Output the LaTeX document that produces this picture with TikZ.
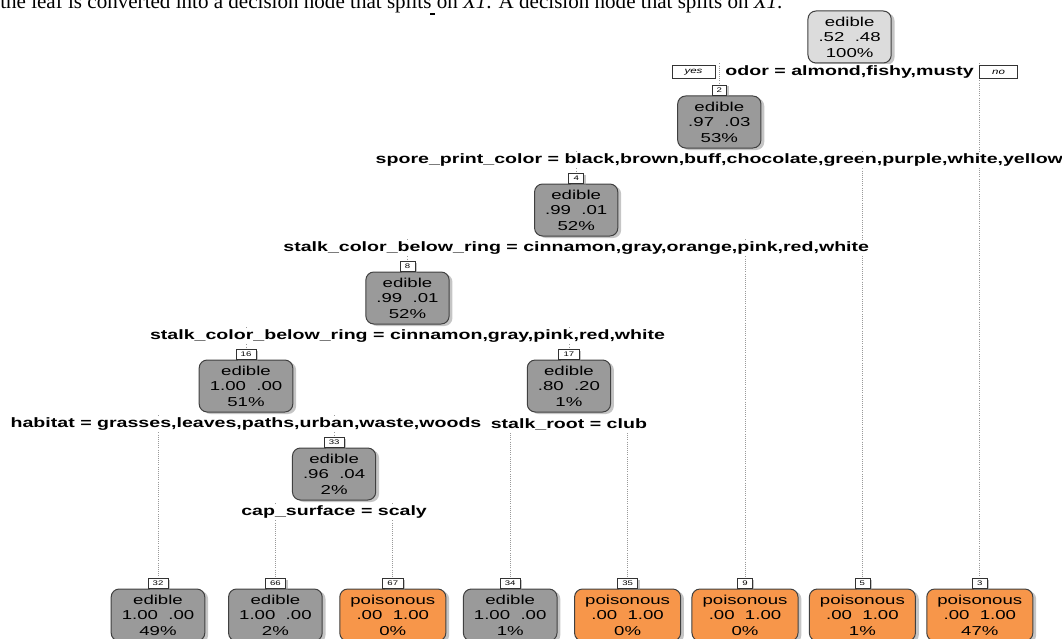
\documentclass[tikz,border=0pt]{standalone}
\usepackage{fontspec}
\setmainfont{Liberation Serif}
\newfontfamily\arialfont{Liberation Sans}
\usepackage{xcolor}
\usetikzlibrary{shadows,backgrounds}
\tikzset{>=latex}
\definecolor{rootgray}{HTML}{DCDCDC}
\definecolor{edgray}{HTML}{9A9A9A}
\definecolor{poisorange}{HTML}{F7964A}
\tikzset{
  box/.style={draw=black!75, line width=0.75pt, rounded corners=6pt, align=center,
    font=\arialfont\fontsize{9.7}{11.6}\selectfont, inner xsep=5.5pt, inner ysep=2pt,
    minimum height=39pt, xscale=1.44,
    drop shadow={shadow xshift=2.5pt, shadow yshift=-1.5pt, fill=black!45, opacity=.5}},
  rootbox/.style={box, fill=rootgray},
  edbox/.style={box, fill=edgray},
  pobox/.style={box, fill=poisorange},
  tag/.style={draw=black!80, fill=white, line width=0.5pt, inner xsep=2.5pt, inner ysep=0pt,
    minimum height=7.5pt, font=\arialfont\fontsize{5}{6}\selectfont, xscale=1.44,
    drop shadow={shadow xshift=1.5pt, shadow yshift=-1pt, fill=black!45, opacity=.5}},
  yesno/.style={draw=black!80, fill=white, line width=0.6pt, inner xsep=6.5pt, inner ysep=0pt,
    minimum height=9.5pt, font=\arialfont\itshape\fontsize{6}{7}\selectfont, xscale=1.44},
  split/.style={fill=white, inner xsep=1pt, inner ysep=1.5pt,
    font=\arialfont\bfseries\fontsize{10.2}{12}\selectfont, xscale=1.44},
  branch/.style={densely dotted, gray!80, line width=0.6pt}
}

\begin{document}
\begin{tikzpicture}[x=0.75pt, y=-0.75pt]
\useasboundingbox (0,0) rectangle (1062,638);
\clip (0,0) rectangle (1062,638);

% Text line cut off at the top
\node[anchor=base west, inner sep=0pt, font=\fontsize{15.8}{19}\selectfont] (cap) at (0,9)
  {the leaf is converted into a decision node that splits on \textit{X1}. A decision node that splits on \textit{X1}.};
\draw[line width=0.8pt] (430,14)--(435,14);

% Inner nodes
\node[rootbox] (n1) at (849.6,37) {edible\\.52\ \ .48\\100\%};
\node[edbox] (n2) at (719.3,122) {edible\\.97\ \ .03\\53\%};
\node[edbox] (n4) at (576.2,210) {edible\\.99\ \ .01\\52\%};
\node[edbox] (n8) at (407.5,298) {edible\\.99\ \ .01\\52\%};
\node[edbox] (n16) at (246,386) {edible\\1.00\ \ .00\\51\%};
\node[edbox] (n17) at (568.9,386) {edible\\.80\ \ .20\\1\%};
\node[edbox] (n33) at (334.1,474) {edible\\.96\ \ .04\\2\%};

% Leaves
\node[edbox] (n32) at (158,615) {edible\\1.00\ \ .00\\49\%};
\node[edbox] (n66) at (275.4,615) {edible\\1.00\ \ .00\\2\%};
\node[pobox] (n67) at (392.8,615) {poisonous\\.00\ \ 1.00\\0\%};
\node[edbox] (n34) at (510.2,615) {edible\\1.00\ \ .00\\1\%};
\node[pobox] (n35) at (627.6,615) {poisonous\\.00\ \ 1.00\\0\%};
\node[pobox] (n9) at (745,615) {poisonous\\.00\ \ 1.00\\0\%};
\node[pobox] (n5) at (862.4,615) {poisonous\\.00\ \ 1.00\\1\%};
\node[pobox] (n3) at (979.8,615) {poisonous\\.00\ \ 1.00\\47\%};

% Node numbers
\node[tag, anchor=south] (k2) at (n2.north) {2};
\node[tag, anchor=south] (k4) at (n4.north) {4};
\node[tag, anchor=south] (k8) at (n8.north) {8};
\node[tag, anchor=south] (k16) at (n16.north) {16};
\node[tag, anchor=south] (k17) at (n17.north) {17};
\node[tag, anchor=south] (k33) at (n33.north) {33};
\node[tag, anchor=south] (k32) at (n32.north) {32};
\node[tag, anchor=south] (k66) at (n66.north) {66};
\node[tag, anchor=south] (k67) at (n67.north) {67};
\node[tag, anchor=south] (k34) at (n34.north) {34};
\node[tag, anchor=south] (k35) at (n35.north) {35};
\node[tag, anchor=south] (k9) at (n9.north) {9};
\node[tag, anchor=south] (k5) at (n5.north) {5};
\node[tag, anchor=south] (k3) at (n3.north) {3};

% Split labels
\node[split] (s1) at (849.6,72) {odor = almond,fishy,musty};
\node[split] (s2) at (719.3,160) {spore\_print\_color = black,brown,buff,chocolate,green,purple,white,yellow};
\node[split] (s3) at (576.2,248) {stalk\_color\_below\_ring = cinnamon,gray,orange,pink,red,white};
\node[split] (s4) at (407.5,336) {stalk\_color\_below\_ring = cinnamon,gray,pink,red,white};
\node[split] (s16) at (246,424) {habitat = grasses,leaves,paths,urban,waste,woods};
\node[split] (s17) at (568.9,424) {stalk\_root = club};
\node[split] (s33) at (334.1,512) {cap\_surface = scaly};

\node[yesno] (yes) at (693.5,72) {yes};
\node[yesno] (no) at (998.5,72) {no};

% Branches
\begin{scope}[on background layer]
\draw[branch] (s1.north -| k2) -- (k2.north);
\draw[branch] (s1.north -| k3) -- (k3.north);
\draw[branch] (s2.north -| k4) -- (k4.north);
\draw[branch] (s2.north -| k5) -- (k5.north);
\draw[branch] (s3.north -| k8) -- (k8.north);
\draw[branch] (s3.north -| k9) -- (k9.north);
\draw[branch] (s4.north -| k16) -- (k16.north);
\draw[branch] (s4.north -| k17) -- (k17.north);
\draw[branch] (s16.north -| k32) -- (k32.north);
\draw[branch] (s16.north -| k33) -- (k33.north);
\draw[branch] (s17.north -| k34) -- (k34.north);
\draw[branch] (s17.north -| k35) -- (k35.north);
\draw[branch] (s33.north -| k66) -- (k66.north);
\draw[branch] (s33.north -| k67) -- (k67.north);
\end{scope}

\end{tikzpicture}
\end{document}
